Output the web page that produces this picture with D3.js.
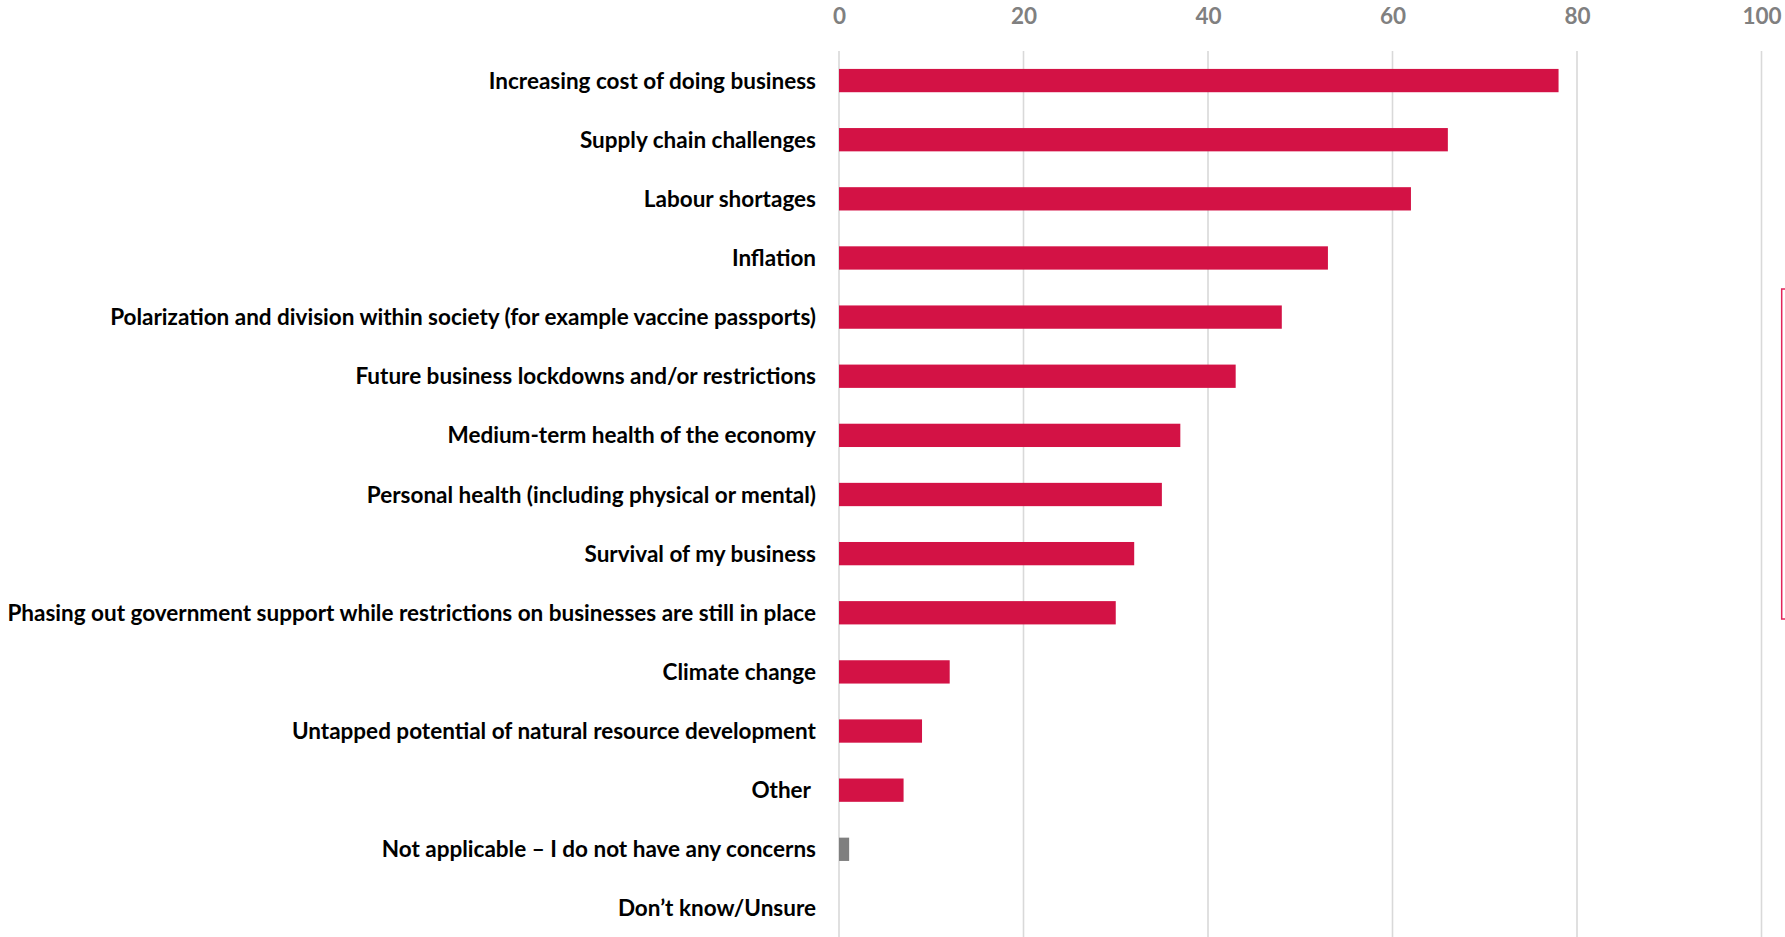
<!DOCTYPE html>
<html>
<head>
<meta charset="utf-8">
<script src="https://cdn.jsdelivr.net/npm/d3@7"></script>
<style>
  html, body { margin: 0; padding: 0; background: #ffffff; }
  svg { display: block; }
  text { font-family: Lato, "Open Sans", sans-serif; font-weight: 700; }
</style>
</head>
<body>
<svg id="chart" width="1785" height="937"></svg>
<script>
// Survey responses: share of respondents (%) naming each concern
const categories = [
  "Increasing cost of doing business",
  "Supply chain challenges",
  "Labour shortages",
  "Inflation",
  "Polarization and division within society (for example vaccine passports)",
  "Future business lockdowns and/or restrictions",
  "Medium-term health of the economy",
  "Personal health (including physical or mental)",
  "Survival of my business",
  "Phasing out government support while restrictions on businesses are still in place",
  "Climate change",
  "Untapped potential of natural resource development",
  "Other ",
  "Not applicable – I do not have any concerns",
  "Don’t know/Unsure"
];
const values = [78, 66, 62, 53, 48, 43, 37, 35, 32, 30, 12, 9, 7, 1.1, 0];
// answers that are not a concern are shown in grey
const neutralCategories = [
  "Not applicable – I do not have any concerns",
  "Don’t know/Unsure"
];
const tickValues = [0, 20, 40, 60, 80, 100];

const W = 1785, H = 937;
const margin = { top: 51, right: 23.5, bottom: -1, left: 839 };
const fontSize = 22.5;
const capHeight = 0.716 * fontSize;
const barRed = "#D31245";
const barGrey = "#7F7F7F";

const svg = d3.select("#chart");

const x = d3.scaleLinear()
  .domain([0, 100])
  .range([margin.left, W - margin.right]);

const y = d3.scaleBand()
  .domain(categories)
  .range([margin.top, H - margin.bottom])
  .paddingInner(0.606)
  .paddingOuter(0.303);

// vertical gridlines
svg.append("g")
  .selectAll("line")
  .data(tickValues)
  .join("line")
  .attr("x1", d => x(d))
  .attr("x2", d => x(d))
  .attr("y1", margin.top)
  .attr("y2", H)
  .attr("stroke", "#D9D9D9")
  .attr("stroke-width", 1.6);

// value axis along the top
const axis = svg.append("g")
  .attr("transform", "translate(0,24.3)")
  .call(d3.axisTop(x).tickValues(tickValues).tickSize(0).tickPadding(0).tickFormat(d3.format("d")));
axis.select(".domain").remove();
axis.selectAll(".tick text")
  .attr("fill", "#808080")
  .attr("font-size", fontSize)
  .attr("font-family", null)
  .attr("font-weight", 800)
  .attr("text-anchor", "middle")
  .attr("dy", 0)
  .attr("y", 0);

// bars
svg.append("g")
  .selectAll("rect")
  .data(categories.map((c, i) => ({ c, v: values[i] })))
  .join("rect")
  .attr("x", x(0))
  .attr("y", d => y(d.c))
  .attr("width", d => x(d.v) - x(0))
  .attr("height", y.bandwidth())
  .attr("fill", d => neutralCategories.includes(d.c) ? barGrey : barRed);

// category labels
svg.append("g")
  .selectAll("text")
  .data(categories)
  .join("text")
  .attr("x", x(0) - 23)
  .attr("y", d => y(d) + y.bandwidth() / 2 + capHeight / 2)
  .attr("text-anchor", "end")
  .attr("font-size", fontSize)
  .attr("fill", "#000000")
  .style("white-space", "pre")
  .text(d => d);

// bracket at the right edge
const bx = 1781.7, bTop = 289, bBottom = 619;
const bracket = d3.path();
bracket.moveTo(bx + 3.5, bTop);
bracket.lineTo(bx, bTop);
bracket.lineTo(bx, bBottom);
bracket.lineTo(bx + 3.5, bBottom);
svg.append("path")
  .attr("d", bracket.toString())
  .attr("fill", "none")
  .attr("stroke", "#E2245A")
  .attr("stroke-width", 1.5);
</script>
</body>
</html>
